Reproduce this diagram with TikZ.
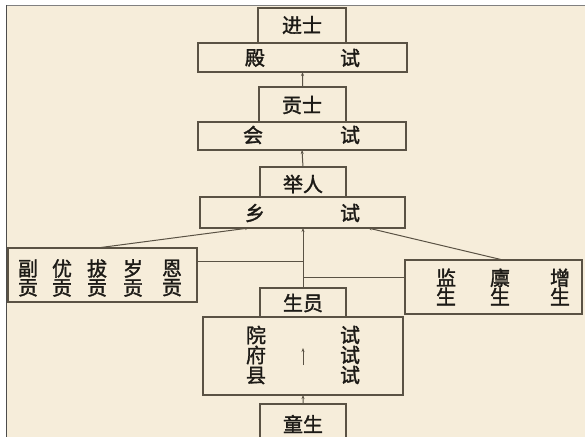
\documentclass[tikz,border=0pt]{standalone}
\usepackage{fontspec}
\newfontfamily\cjk{Noto Sans CJK SC}[FakeBold=1.6]
\usetikzlibrary{arrows.meta}
\definecolor{paper}{HTML}{F6EDDA}
\definecolor{ink}{HTML}{5A5244}
\definecolor{txt}{HTML}{1C1A16}
\begin{document}
\begin{tikzpicture}[x=1bp,y=-1bp,
  box/.style={draw=ink, line width=1.2bp, inner sep=0, outer sep=0, anchor=north west},
  lbl/.style={font=\cjk\fontsize{20bp}{22bp}\selectfont, text=txt, inner sep=0},
  conn/.style={draw=ink, line width=1bp},
  arr/.style={conn, -{Stealth[length=4bp,width=3bp]}}]
\useasboundingbox (0,0) rectangle (585,437);
\fill[white] (0,0) rectangle (585,437);
\fill[paper] (6,5) rectangle (585,437);
\draw[gray, line width=1.2bp] (6,5.5) -- (585,5.5);
\draw[black!70, line width=1.5bp] (6.5,5) -- (6.5,437);
% boxes
\node[box, minimum width=88bp, minimum height=35bp] (jinshi) at (258,8) {};
\node[box, minimum width=209bp, minimum height=29bp] (dianshi) at (198,43) {};
\node[box, minimum width=87bp, minimum height=35bp] (gongshi) at (259,87) {};
\node[box, minimum width=208bp, minimum height=28bp] (huishi) at (198,122) {};
\node[box, minimum width=86bp, minimum height=30bp] (juren) at (260,167) {};
\node[box, minimum width=205bp, minimum height=31bp] (xiangshi) at (200,197) {};
\node[box, minimum width=189bp, minimum height=54bp] (fugong) at (8,248) {};
\node[box, minimum width=177bp, minimum height=54bp] (jiansheng) at (405,260) {};
\node[box, minimum width=86bp, minimum height=29bp] (shengyuan) at (260,288) {};
\node[box, minimum width=200bp, minimum height=78bp] (yuanfu) at (203,317) {};
\node[box, minimum width=86bp, minimum height=40bp] (tongsheng) at (260,404) {};
% labels
\node[lbl] (t1) at (302,25) {进士};
\node[lbl] (t2a) at (255,58) {殿};
\node[lbl] (t2b) at (350,58) {试};
\node[lbl] (t3) at (302,105) {贡士};
\node[lbl] (t4a) at (253,135) {会};
\node[lbl] (t4b) at (350,135) {试};
\node[lbl] (t5) at (303,184) {举人};
\node[lbl] (t6a) at (255,213) {乡};
\node[lbl] (t6b) at (350,213) {试};
\node[lbl, align=center] (f1) at (28,278) {副\\[-3bp]贡};
\node[lbl, align=center] (f2) at (62,278) {优\\[-3bp]贡};
\node[lbl, align=center] (f3) at (97,278) {拔\\[-3bp]贡};
\node[lbl, align=center] (f4) at (133,278) {岁\\[-3bp]贡};
\node[lbl, align=center] (f5) at (172,278) {恩\\[-3bp]贡};
\node[lbl, align=center] (j1) at (446,287) {监\\[-3bp]生};
\node[lbl, align=center] (j2) at (500,287) {廪\\[-3bp]生};
\node[lbl, align=center] (j3) at (560,287) {增\\[-3bp]生};
\node[lbl] (t7) at (303,303) {生员};
\node[lbl, align=center] (y1) at (256,355) {院\\[-2bp]府\\[-2bp]县};
\node[lbl, align=center] (y2) at (350,355) {试\\[-2bp]试\\[-2bp]试};
\node[lbl] (t8) at (303,424) {童生};
% connectors
\draw[arr] (gongshi.north) -- (dianshi.south);
\draw[arr] (juren.north) -- (huishi.south);
\draw[arr] ([xshift=43bp]shengyuan.north west) -- ([xshift=43bp]shengyuan.north west |- xiangshi.south);
\draw[arr] ([xshift=89bp]fugong.north west) -- ([xshift=49bp]xiangshi.south west);
\draw[arr] ([xshift=98bp]jiansheng.north west) -- ([xshift=168bp]xiangshi.south west);
\draw[conn] ([yshift=-14bp]fugong.north east) -- ([yshift=-14bp]fugong.north east -| shengyuan.north);
\draw[conn] ([yshift=-17bp]jiansheng.north west) -- ([yshift=-17bp]jiansheng.north west -| shengyuan.north);
\draw[arr] ([yshift=-9bp]yuanfu.center) -- ([yshift=8bp]yuanfu.center);
\draw[arr] (tongsheng.north) -- (yuanfu.south);
\end{tikzpicture}
\end{document}
